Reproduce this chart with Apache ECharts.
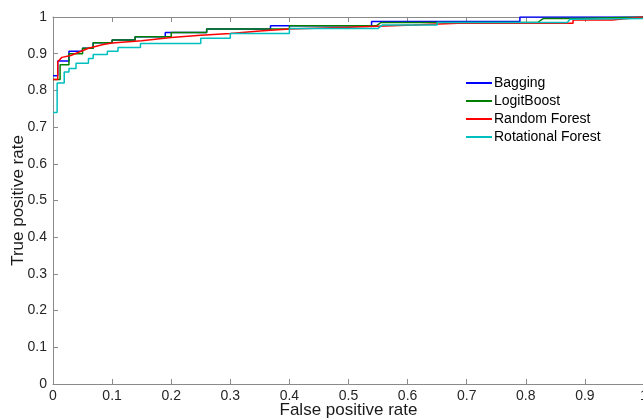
<!DOCTYPE html>
<html>
<head>
<meta charset="utf-8">
<script src="https://cdn.jsdelivr.net/npm/echarts@6/dist/echarts.min.js"></script>
<style>
  html, body { margin: 0; padding: 0; background: #fff; }
  #roc { width: 643px; height: 420px; }
</style>
</head>
<body>
<div id="roc"></div>
<script>
// ROC points: [false positive rate, true positive rate]
const bagging = [
  [0, 0.84], [0.008, 0.84], [0.008, 0.88], [0.027, 0.88], [0.027, 0.907],
  [0.05, 0.907], [0.05, 0.915], [0.068, 0.915], [0.068, 0.93], [0.1, 0.93],
  [0.1, 0.937], [0.139, 0.937], [0.139, 0.946], [0.19, 0.946], [0.19, 0.958],
  [0.26, 0.958], [0.26, 0.967], [0.368, 0.967], [0.368, 0.976], [0.539, 0.976],
  [0.539, 0.988], [0.79, 0.988], [0.79, 1], [1, 1]
]
const logitBoost = [
  [0, 0.83], [0.012, 0.83], [0.012, 0.87], [0.027, 0.87], [0.027, 0.9],
  [0.05, 0.9], [0.05, 0.915], [0.068, 0.915], [0.068, 0.93], [0.1, 0.93],
  [0.1, 0.937], [0.139, 0.937], [0.139, 0.946], [0.2, 0.946], [0.2, 0.958],
  [0.26, 0.958], [0.26, 0.967], [0.4, 0.967], [0.4, 0.976], [0.547, 0.976],
  [0.555, 0.985], [0.82, 0.985], [0.83, 0.996], [0.888, 0.996], [0.89, 1], [1, 1]
]
const randomForest = [
  [0, 0.83], [0.008, 0.83], [0.008, 0.878], [0.015, 0.89], [0.03, 0.895],
  [0.06, 0.915], [0.085, 0.925], [0.1, 0.929], [0.15, 0.935], [0.2, 0.944],
  [0.25, 0.95], [0.3, 0.955], [0.35, 0.962], [0.4, 0.967], [0.5, 0.972],
  [0.5, 0.976], [0.61, 0.978], [0.685, 0.983], [0.88, 0.983], [0.88, 0.992],
  [0.946, 0.992], [0.946, 0.996], [1, 1]
]
const rotationalForest = [
  [0, 0.74], [0.007, 0.74], [0.007, 0.82], [0.019, 0.82], [0.019, 0.85],
  [0.027, 0.85], [0.027, 0.86], [0.039, 0.86], [0.039, 0.874], [0.06, 0.874],
  [0.06, 0.887], [0.068, 0.887], [0.068, 0.898], [0.092, 0.898], [0.092, 0.907],
  [0.11, 0.907], [0.11, 0.917], [0.148, 0.917], [0.148, 0.928], [0.25, 0.928],
  [0.25, 0.942], [0.3, 0.942], [0.3, 0.955], [0.4, 0.955], [0.4, 0.969],
  [0.55, 0.969], [0.557, 0.978], [0.65, 0.978], [0.65, 0.985], [0.87, 0.985],
  [0.875, 0.994], [1, 0.996]
]
const seriesNames = ['Bagging', 'LogitBoost', 'Random Forest', 'Rotational Forest']
const seriesColors = ['#0000ff', '#008000', '#ff0000', '#00bfbf']
const seriesData = [bagging, logitBoost, randomForest, rotationalForest]

const font = 'Liberation Sans, Arial, sans-serif'
const axisGray = '#8a8a8a'

const fmt = v => (v === 0 || v === 1) ? String(v) : v.toFixed(1)

let chart = echarts.init(document.getElementById('roc'))
chart.setOption({
  animation: false,
  textStyle: { fontFamily: font },
  grid: { left: 53, top: 17, width: 591, height: 367, containLabel: false, outerBoundsMode: 'none' },
  legend: {
    orient: 'vertical',
    left: 466,
    top: 76,
    padding: 0,
    itemWidth: 26,
    itemHeight: 2,
    itemGap: 4,
    icon: 'rect',
    data: seriesNames,
    textStyle: { fontFamily: font, fontSize: 14, color: '#000', padding: [0, 0, 0, -3] }
  },
  xAxis: [
    {
      type: 'value', min: 0, max: 1, interval: 0.1,
      name: 'False positive rate', nameLocation: 'middle', nameGap: 18, nameMoveOverlap: false,
      nameTextStyle: { fontFamily: font, fontSize: 17, color: '#1a1a1a' },
      axisLine: { lineStyle: { color: axisGray, width: 1 } },
      axisTick: { inside: true, length: 5, lineStyle: { color: axisGray } },
      axisLabel: { fontFamily: font, fontSize: 14, color: '#262626', margin: 5, formatter: fmt },
      splitLine: { show: false }
    },
    {
      type: 'value', min: 0, max: 1, interval: 0.1, position: 'top',
      axisLine: { show: true, lineStyle: { color: axisGray, width: 1 } },
      axisTick: { show: true, inside: true, length: 5, lineStyle: { color: axisGray } },
      axisLabel: { show: false },
      splitLine: { show: false }
    }
  ],
  yAxis: {
    type: 'value', min: 0, max: 1, interval: 0.1,
    name: 'True positive rate', nameLocation: 'middle', nameGap: 26, nameMoveOverlap: false,
    nameTextStyle: { fontFamily: font, fontSize: 17, color: '#1a1a1a' },
    axisLine: { show: true, lineStyle: { color: axisGray, width: 1 } },
    axisTick: { show: true, inside: true, length: 5, lineStyle: { color: axisGray } },
    axisLabel: { fontFamily: font, fontSize: 14, color: '#262626', margin: 6, formatter: fmt },
    splitLine: { show: false }
  },
  series: seriesNames.map((name, i) => ({
    name: name,
    type: 'line',
    data: seriesData[i],
    showSymbol: false,
    symbol: 'none',
    color: seriesColors[i],
    lineStyle: { color: seriesColors[i], width: 1.5 }
  }))
})
</script>
</body>
</html>
